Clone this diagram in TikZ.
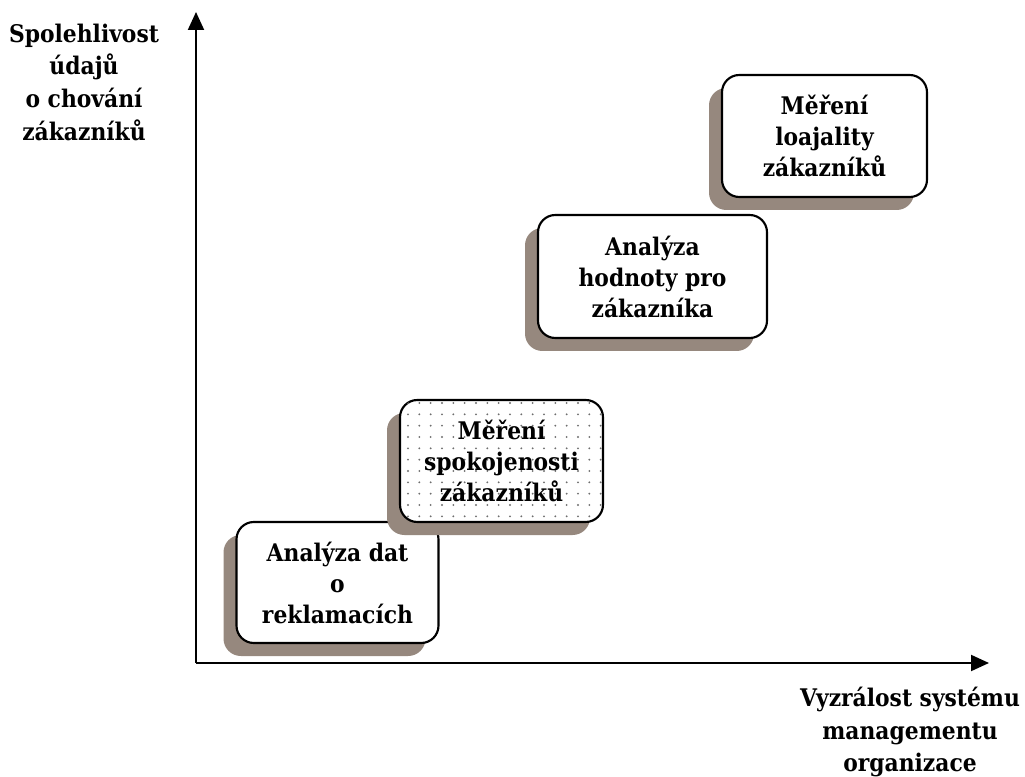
\documentclass[tikz,border=0pt]{standalone}
\usepackage{fontspec}
\setmainfont{DejaVu Serif}[FakeStretch=0.9]
\usetikzlibrary{arrows.meta,shadows,patterns.meta}
\definecolor{shadowbrown}{RGB}{150,136,126}
\definecolor{dotgray}{RGB}{110,110,110}
\newcommand\stagefont{\fontsize{18.2}{23.25}\selectfont\bfseries}
\newcommand\axisfont{\fontsize{18.2}{24.5}\selectfont\bfseries}
\tikzset{
  stagebox/.style={draw=black, line width=1.6pt, rounded corners=13pt,
    fill=white, align=center, inner sep=0pt, font=\stagefont,
    drop shadow={shadow xshift=-9.75pt, shadow yshift=-9.75pt,
      fill=shadowbrown, opacity=1}},
  dotted fill/.style={postaction={pattern={Dots[distance=8.5pt, radius=0.8pt]},
      pattern color=dotgray}},
  axisline/.style={line width=1.5pt, -{Triangle[length=13.5pt, width=12pt]}},
  axislabel/.style={align=center, font=\axisfont}
}
\begin{document}
\begin{tikzpicture}[x=0.75pt, y=-0.75pt]
  \useasboundingbox (0,0) rectangle (1025,777);

  % axes
  \coordinate (origin) at (196,663);
  \coordinate (ytip) at (196,12);
  \coordinate (xtip) at (989,663);
  \draw[axisline] (origin) -- (ytip);
  \draw[axisline] (origin) -- (xtip);

  \node[axislabel] (ylabel) at (84,82)
    {Spolehlivost\\ údajů\\ o chování\\ zákazníků};
  \node[axislabel] (xlabel) at (910,732)
    {Vyzrálost systému\\ managementu\\ organizace};

  % stages, drawn bottom-left to top-right
  \node[stagebox, minimum width=151.5pt, minimum height=90.75pt]
    (complaints) at (337.5,582.5) {Analýza dat\\ o\\ reklamacích};
  \node[stagebox, dotted fill, minimum width=152.25pt, minimum height=91.5pt]
    (satisfaction) at (501.5,461) {Měření\\ spokojenosti\\ zákazníků};
  \node[stagebox, minimum width=171.75pt, minimum height=92.25pt]
    (value) at (652.5,276.5) {Analýza\\ hodnoty pro\\ zákazníka};
  \node[stagebox, minimum width=153.75pt, minimum height=91.5pt]
    (loyalty) at (824.5,136) {Měření\\ loajality\\ zákazníků};
\end{tikzpicture}
\end{document}
